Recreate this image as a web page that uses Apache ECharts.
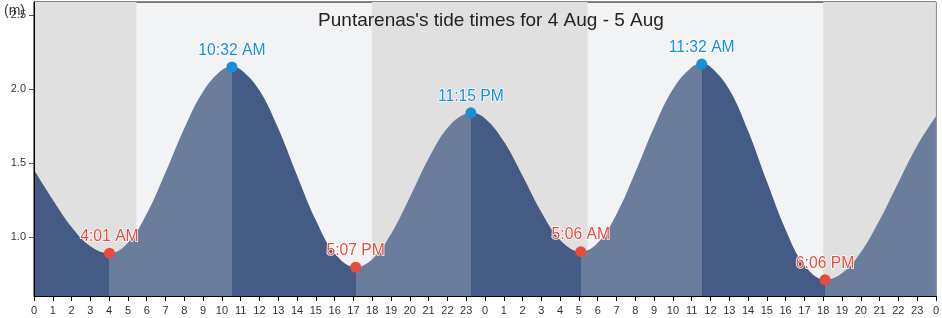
<!DOCTYPE html>
<html>
<head>
<meta charset="utf-8">
<script src="https://cdn.jsdelivr.net/npm/echarts@6/dist/echarts.min.js"></script>
<style>html,body{margin:0;padding:0;background:#fff;}#c{width:942px;height:318px;}</style>
</head>
<body>
<div id="c"></div>
<script>
// Hours since 00:00 on 4 Aug; tide height in metres
const curveTimes = [0,1,2,3,4.017,5,6,7,8,9,10,10.533,11,12,13,14,15,16,17.117,18,19,20,21,22,23,23.25,24,25,26,27,28,29.1,30,31,32,33,34,35,35.533,36,37,38,39,40,41,42.1,43,44,45,46,47,48];
const curveLevels = [1.455,1.252,1.067,0.937,0.89,0.96,1.157,1.437,1.736,1.985,2.129,2.15,2.133,1.991,1.733,1.416,1.112,0.889,0.795,0.848,1.02,1.268,1.53,1.737,1.836,1.84,1.802,1.647,1.414,1.168,0.979,0.90,0.96,1.154,1.437,1.743,2.0,2.149,2.17,2.152,1.998,1.718,1.376,1.049,0.809,0.71,0.754,0.896,1.114,1.369,1.617,1.816];

const extremeTimes = [4.017,10.533,17.117,23.25,29.1,35.533,42.1];
const extremeLevels = [0.89,2.15,0.795,1.84,0.90,2.17,0.71];
const extremeLabels = ['4:01 AM','10:32 AM','5:07 PM','11:15 PM','5:06 AM','11:32 AM','6:06 PM'];
const extremeKinds = ['low','high','low','high','low','high','low'];

// Night periods (hours)
const nightStarts = [0,17.98,42.0];
const nightEnds = [5.45,29.46,48];

const yTickValues = [1.0,1.5,2.0,2.5];
const titleText = "Puntarenas's tide times for 4 Aug - 5 Aug";

const DARK = '#445c85';
const LIGHT = '#6a7d9d';
const LOWC = '#e84c3d';
const HIGHC = '#188fd8';
const FONT = "'Liberation Sans', Arial, sans-serif";

const curveData = curveTimes.map((t,i)=>[t,curveLevels[i]]);

const pieces = [];
let prev = -Infinity;
extremeTimes.forEach((t,i)=>{
  pieces.push({gte: prev, lt: t, color: extremeKinds[i]==='low' ? DARK : LIGHT});
  prev = t;
});
pieces.push({gte: prev, lt: Infinity, color: extremeKinds[extremeKinds.length-1]==='low' ? LIGHT : DARK});

const dotData = extremeTimes.map((t,i)=>{
  const c = extremeKinds[i]==='low' ? LOWC : HIGHC;
  return {value:[t,extremeLevels[i]], itemStyle:{color:c, opacity:1}, label:{color:c, formatter: extremeLabels[i]}};
});

const nightAreas = nightStarts.map((s,i)=>[{xAxis:s},{xAxis:nightEnds[i]}]);

const chart = echarts.init(document.getElementById('c'), null, {renderer:'canvas'});
chart.setOption({
  animation:false,
  textStyle:{fontFamily:FONT},
  title:{text:titleText, left:486, textAlign:'center', top:6, textStyle:{fontSize:19, fontWeight:'normal', color:'#222', fontFamily:FONT}},
  grid:{left:34, right:3, top:2, bottom:22, show:true, backgroundColor:'#f2f3f5', borderColor:'#000', borderWidth:1},
  graphic:[{type:'text', left:4, top:4, z:20, style:{text:'(m)', fontSize:14, fill:'#333', fontFamily:FONT}}],
  visualMap:{type:'piecewise', show:false, dimension:0, seriesIndex:1, pieces:pieces},
  xAxis:{type:'value', min:0, max:48, interval:1, z:10,
    axisLine:{lineStyle:{color:'#000', width:1}},
    axisTick:{show:true, length:5, lineStyle:{color:'#000'}},
    axisLabel:{fontSize:11, color:'#333', margin:9, formatter:v=>String(v%24)},
    splitLine:{show:false}},
  yAxis:{type:'value', min:0.6, max:2.59, splitNumber:4, z:10,
    axisLine:{show:true, lineStyle:{color:'#000'}},
    axisTick:{show:true, length:5, customValues:yTickValues, lineStyle:{color:'#555'}},
    axisLabel:{fontSize:11, color:'#333', margin:8, customValues:yTickValues, formatter:v=>v.toFixed(1)},
    splitLine:{show:false}},
  series:[
    {type:'scatter', data:[], z:1, silent:true,
      markArea:{silent:true, itemStyle:{color:'#e0e0e0'}, data:nightAreas}},
    {type:'line', data:curveData, smooth:0.4, showSymbol:false, z:2, silent:true,
      lineStyle:{width:0}, areaStyle:{opacity:1, origin:'start'}},
    {type:'scatter', data:dotData, symbolSize:11, z:5, silent:true, itemStyle:{opacity:1},
      label:{show:true, position:'top', distance:3, fontSize:15.7, fontFamily:FONT, opacity:1,
        textBorderColor:'#fff', textBorderWidth:1.5}}
  ]
});
</script>
</body>
</html>
